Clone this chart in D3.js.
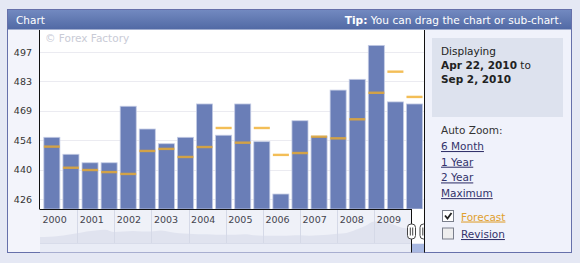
<!DOCTYPE html>
<html>
<head>
<meta charset="utf-8">
<script src="https://cdn.jsdelivr.net/npm/d3@7"></script>
<style>
  body { margin: 0; background: #e5e8f4; }
  svg { display: block; font-family: "DejaVu Sans", Verdana, sans-serif; }
</style>
</head>
<body>
<div id="chart"></div>
<script>
// weekly dates shown in the main chart
var weeks = ["Apr 22", "Apr 29", "May 6", "May 13", "May 20", "May 27", "Jun 3", "Jun 10", "Jun 17", "Jun 24",
             "Jul 1", "Jul 8", "Jul 15", "Jul 22", "Jul 29", "Aug 5", "Aug 12", "Aug 19", "Aug 26", "Sep 2"];
// actual values (bars)
var actual = [455.8, 447.6, 443.5, 443.5, 470.8, 459.8, 452.7, 455.8, 471.9, 456.8,
              471.9, 453.7, 428.4, 463.8, 456.4, 478.6, 483.8, 500.2, 472.9, 471.9];
// forecast values (orange markers)
var forecast = [451.3, 441.1, 440.0, 439.0, 438.1, 449.2, 450.2, 446.3, 451.1, 460.3,
                453.2, 460.3, 447.3, 448.2, 456.1, 455.3, 464.5, 477.3, 487.5, 475.3];
// y tick values (labels rounded)
var yTicks = [426, 440.2, 454.4, 468.6, 482.8, 497];
// navigator years
var navYears = [2000, 2001, 2002, 2003, 2004, 2005, 2006, 2007, 2008, 2009];
// navigator history, quarterly from 2000 to 2010
var navValues = [280, 285, 300, 330, 360, 400, 420, 440, 390, 400, 410, 400, 400, 420, 390, 360,
                 350, 340, 340, 330, 330, 330, 340, 320, 310, 310, 310, 315, 320, 310, 320, 330,
                 350, 370, 440, 520, 620, 610, 550, 480, 460];

var svgWidth = 580, svgHeight = 263;

//frame layout
var frame = {left: 7.5, top: 9.5, right: 571.5, bottom: 252.5};
var plot = {left: 40, right: 424, top: 30, bottom: 209};
var nav = {left: 40, right: 411.5, top: 209, bottom: 243};

var svg = d3.select("#chart")
    .append("svg")
    .attr("width", svgWidth)
    .attr("height", svgHeight);

var defs = svg.append("defs");
var grad = defs.append("linearGradient")
    .attr("id", "head")
    .attr("x1", 0).attr("y1", 0).attr("x2", 0).attr("y2", 1);
grad.append("stop").attr("offset", "0%").attr("stop-color", "#7289c0");
grad.append("stop").attr("offset", "100%").attr("stop-color", "#5169a4");

//outer frame
svg.append("rect")
    .attr("x", frame.left).attr("y", frame.top)
    .attr("width", frame.right - frame.left).attr("height", frame.bottom - frame.top)
    .attr("fill", "#f3f4fb")
    .attr("stroke", "#6670aa");

//header bar
svg.append("rect")
    .attr("x", frame.left + 0.5).attr("y", frame.top + 0.5)
    .attr("width", frame.right - frame.left - 1).attr("height", 19.5)
    .attr("fill", "url(#head)");

svg.append("text")
    .attr("x", 16).attr("y", 24)
    .attr("fill", "white")
    .style("font-size", "10.5px")
    .text("Chart");

var tip = svg.append("text")
    .attr("x", 562).attr("y", 24)
    .attr("text-anchor", "end")
    .attr("fill", "white")
    .style("font-size", "10.6px");
tip.append("tspan").style("font-weight", "bold").text("Tip:");
tip.append("tspan").text(" You can drag the chart or sub-chart.");

//plot background
svg.append("rect")
    .attr("x", plot.left).attr("y", plot.top)
    .attr("width", plot.right - plot.left).attr("height", plot.bottom - plot.top)
    .attr("fill", "white");

svg.append("text")
    .attr("x", 45).attr("y", 42)
    .attr("fill", "#c9cbd6")
    .style("font-size", "10.5px")
    .text("\u00a9 Forex Factory");

//scales
var xScale = d3.scaleBand()
    .domain(weeks)
    .range([plot.left, plot.right])
    .paddingInner(0.16)
    .paddingOuter(0.14)
    .align(0.72);

var yScale = d3.scaleLinear()
    .domain([426, 497])
    .range([199, 52]);

//gridlines
svg.append("g")
    .selectAll("line")
    .data(yTicks)
    .enter()
    .append("line")
    .attr("x1", plot.left).attr("x2", plot.right)
    .attr("y1", d => Math.round(yScale(d)) + 0.5)
    .attr("y2", d => Math.round(yScale(d)) + 0.5)
    .attr("stroke", "#ebebf1");

//y axis labels
var leftAxis = d3.axisLeft(yScale)
    .tickValues(yTicks)
    .tickFormat(d3.format(".0f"))
    .tickSize(0)
    .tickPadding(8);

var yAxis = svg.append("g")
    .attr("transform", "translate(" + plot.left + ",0)")
    .call(leftAxis);
yAxis.select(".domain").remove();
yAxis.selectAll("text")
    .attr("fill", "#333")
    .style("font-family", "'DejaVu Sans', Verdana, sans-serif")
    .style("font-size", "9.5px");

//bars
svg.append("g")
    .selectAll("rect")
    .data(actual)
    .enter()
    .append("rect")
    .attr("x", (d, i) => xScale(weeks[i]))
    .attr("y", d => yScale(d))
    .attr("width", xScale.bandwidth())
    .attr("height", d => plot.bottom - yScale(d))
    .attr("fill", "#6a7eb7")
    .attr("stroke", "#c3cbe4")
    .attr("stroke-width", 0.8);

//forecast markers
svg.append("g")
    .selectAll("rect")
    .data(forecast)
    .enter()
    .append("rect")
    .attr("x", (d, i) => xScale(weeks[i]))
    .attr("y", d => yScale(d) - 1.2)
    .attr("width", xScale.bandwidth())
    .attr("height", 2.4)
    .attr("fill", "#f0ac28")
    .attr("opacity", 0.78);

//navigator
var navX = d3.scaleLinear().domain([2000, 2010]).range([nav.left, nav.right]);
var navY = d3.scaleLinear().domain([150, 650]).range([nav.bottom, 220]);

svg.append("rect")
    .attr("x", nav.left).attr("y", nav.top)
    .attr("width", nav.right - nav.left).attr("height", nav.bottom - nav.top)
    .attr("fill", "#eff1f8");

var navArea = d3.area()
    .x((d, i) => navX(2000 + i / 4))
    .y0(nav.bottom)
    .y1(d => navY(d))
    .curve(d3.curveMonotoneX);

svg.append("path")
    .datum(navValues)
    .attr("d", navArea)
    .attr("fill", "#e0e3ef");

svg.append("g")
    .selectAll("line")
    .data(navYears.slice(1))
    .enter()
    .append("line")
    .attr("x1", d => Math.round(navX(d)) + 0.5)
    .attr("x2", d => Math.round(navX(d)) + 0.5)
    .attr("y1", nav.top).attr("y2", nav.bottom)
    .attr("stroke", "#d5d9e7");

svg.append("g")
    .selectAll("text")
    .data(navYears)
    .enter()
    .append("text")
    .attr("x", d => navX(d) + 2.5)
    .attr("y", 223)
    .attr("fill", "#44444e")
    .style("font-size", "9.5px")
    .text(d => d);

//white gap between navigator and panel
svg.append("rect")
    .attr("x", nav.right).attr("y", nav.top)
    .attr("width", plot.right - nav.right).attr("height", nav.bottom - nav.top)
    .attr("fill", "white");

//scrollbar strip
svg.append("rect")
    .attr("x", nav.left).attr("y", nav.bottom)
    .attr("width", plot.right - nav.left).attr("height", frame.bottom - nav.bottom)
    .attr("fill", "#e9ecf6");
svg.append("line")
    .attr("x1", nav.left).attr("x2", nav.right)
    .attr("y1", nav.bottom + 0.5).attr("y2", nav.bottom + 0.5)
    .attr("stroke", "#d8dcea");
svg.append("rect")
    .attr("x", nav.right).attr("y", nav.bottom + 1)
    .attr("width", plot.right - nav.right).attr("height", frame.bottom - nav.bottom - 1.5)
    .attr("fill", "#a9b9e2");

//axis lines
svg.append("line")
    .attr("x1", 39.5).attr("x2", 39.5)
    .attr("y1", plot.top).attr("y2", plot.bottom)
    .attr("stroke", "#111");
svg.append("line")
    .attr("x1", 39.5).attr("x2", nav.right)
    .attr("y1", plot.bottom + 0.5).attr("y2", plot.bottom + 0.5)
    .attr("stroke", "#111");
svg.append("line")
    .attr("x1", nav.right).attr("x2", nav.right)
    .attr("y1", plot.bottom).attr("y2", frame.bottom)
    .attr("stroke", "#111");

//drag handles
[nav.right, plot.right].forEach(function(hx) {
    var h = svg.append("g").attr("transform", "translate(" + hx + ",231.5)");
    h.append("rect")
        .attr("x", -4).attr("y", -7.5)
        .attr("width", 8).attr("height", 15)
        .attr("rx", 3.5)
        .attr("fill", "white")
        .attr("stroke", "#444");
    h.append("line").attr("x1", -1.2).attr("x2", -1.2).attr("y1", -4).attr("y2", 4).attr("stroke", "#444");
    h.append("line").attr("x1", 1.2).attr("x2", 1.2).attr("y1", -4).attr("y2", 4).attr("stroke", "#444");
});

//right panel
svg.append("rect")
    .attr("x", plot.right).attr("y", plot.top)
    .attr("width", frame.right - 0.5 - plot.right).attr("height", frame.bottom - 0.5 - plot.top)
    .attr("fill", "#f0f2fb");
svg.append("line")
    .attr("x1", plot.right + 0.5).attr("x2", plot.right + 0.5)
    .attr("y1", plot.top).attr("y2", frame.bottom)
    .attr("stroke", "#111");

svg.append("rect")
    .attr("x", 432).attr("y", 38)
    .attr("width", 131).attr("height", 79)
    .attr("fill", "#dde2ee");

var panel = svg.append("g").style("font-size", "10.5px").attr("fill", "#222");
panel.append("text").attr("x", 441).attr("y", 55).text("Displaying");
var l2 = panel.append("text").attr("x", 441).attr("y", 69);
l2.append("tspan").style("font-weight", "bold").text("Apr 22, 2010");
l2.append("tspan").text(" to");
panel.append("text").attr("x", 441).attr("y", 83).style("font-weight", "bold").text("Sep 2, 2010");

panel.append("text").attr("x", 441).attr("y", 134).attr("fill", "#333").text("Auto Zoom:");
var zooms = ["6 Month", "1 Year", "2 Year", "Maximum"];
panel.selectAll(".zoom")
    .data(zooms)
    .enter()
    .append("text")
    .attr("class", "zoom")
    .attr("x", 441)
    .attr("y", (d, i) => 150 + i * 15.7)
    .attr("fill", "#33336b")
    .style("text-decoration", "underline")
    .text(d => d);

//checkboxes
var boxes = [{label: "Forecast", checked: true, color: "#e0a030"}, {label: "Revision", checked: false, color: "#33336b"}];
boxes.forEach(function(b, i) {
    var cy = 210.5 + i * 17.5;
    svg.append("rect")
        .attr("x", 442.5).attr("y", cy)
        .attr("width", 11).attr("height", 11)
        .attr("fill", b.checked ? "white" : "#eeeeee")
        .attr("stroke", "#7a7f8c");
    if (b.checked) {
        svg.append("path")
            .attr("d", "M445," + (cy + 5) + " L447.5," + (cy + 8) + " L451.5," + (cy + 2.5))
            .attr("fill", "none")
            .attr("stroke", "#222")
            .attr("stroke-width", 1.8);
    }
    panel.append("text")
        .attr("x", 461).attr("y", cy + 10)
        .attr("fill", b.color)
        .style("text-decoration", "underline")
        .text(b.label);
});
</script>
</body>
</html>
